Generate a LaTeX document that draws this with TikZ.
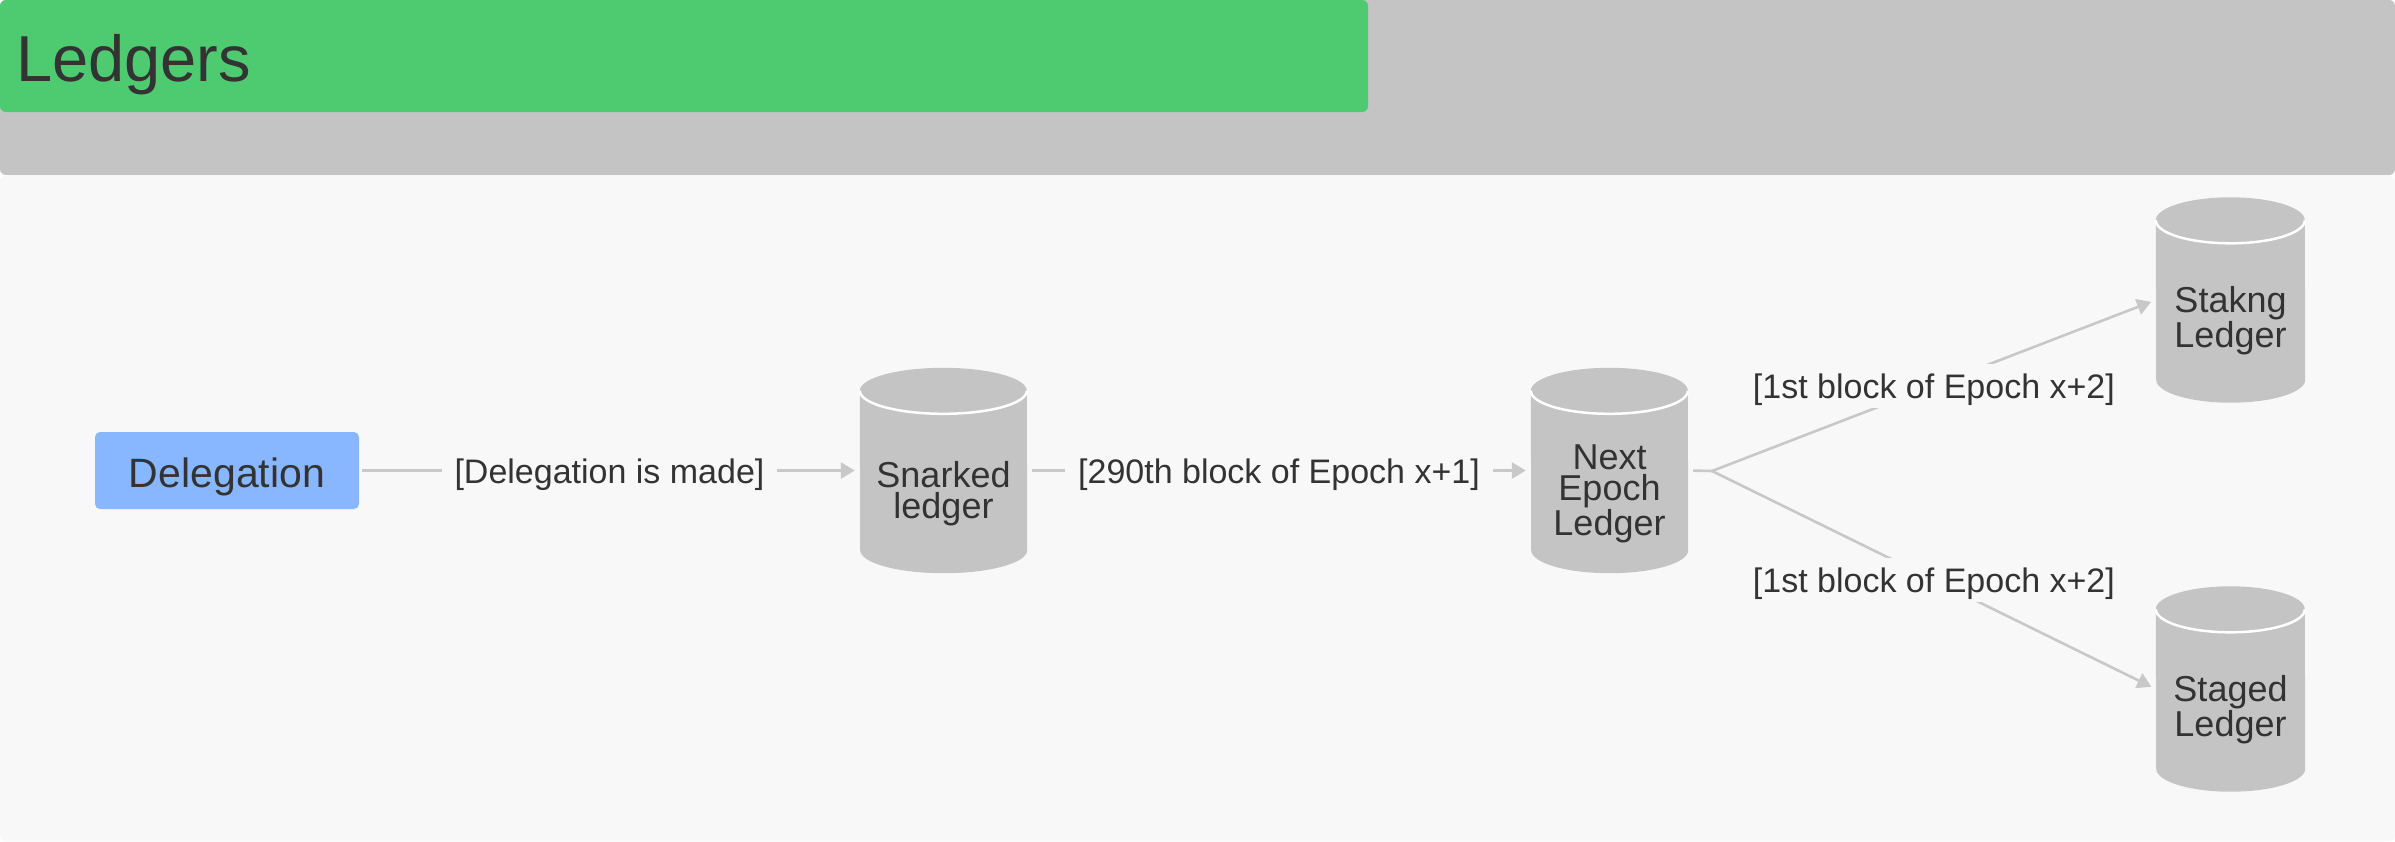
\documentclass[tikz,border=0pt]{standalone}
\usepackage{fontspec}
\setmainfont{Liberation Sans}
\usetikzlibrary{arrows.meta}
\pgfdeclarelayer{bg}
\pgfdeclarelayer{cyl}
\pgfsetlayers{bg,cyl,main}
\definecolor{hdr}{HTML}{C4C4C4}
\definecolor{bodyc}{HTML}{F8F8F8}
\definecolor{grn}{HTML}{4ECB71}
\definecolor{blu}{HTML}{88B7FF}
\definecolor{txt}{HTML}{333333}
\definecolor{edgec}{HTML}{C8C8C8}
\definecolor{cylc}{HTML}{C4C4C4}
\newcommand\dbdraw[2]{%
  \begin{pgfonlayer}{cyl}
  \fill[cylc] ([yshift=-23pt]#1.north west) arc[start angle=180,end angle=0,x radius=#2pt,y radius=23pt]
    -- ([yshift=23pt]#1.south east) arc[start angle=0,end angle=-180,x radius=#2pt,y radius=23pt] -- cycle;
  \draw[white,line width=2.5pt] ([yshift=-23pt]#1.north west) arc[start angle=180,end angle=360,x radius=#2pt,y radius=23pt];
  \end{pgfonlayer}}
\begin{document}
\begin{tikzpicture}[x=1pt,y=-1pt,
  dbnode/.style={rectangle,inner sep=0pt,minimum height=205pt,align=center,text=txt,
    font=\fontsize{36}{31}\selectfont,text depth=10pt},
  twoline/.style={text height=105pt},
  threeline/.style={text height=139pt},
  lab/.style={fill=bodyc,text=txt,font=\fontsize{34}{40}\selectfont,inner xsep=13pt,inner ysep=0pt,
    minimum height=44pt,text height=30pt,text depth=5pt},
  edge/.style={draw=edgec,line width=2.6pt,shorten >=5pt,-{Triangle[length=14pt,width=16pt]}},
]
\useasboundingbox (0,0) rectangle (2395,841);
\begin{pgfonlayer}{bg}
  \fill[white] (0,0) rectangle (2395,841);
  \fill[bodyc,rounded corners=6pt] (0,176) rectangle (2395,841);
  \fill[hdr,rounded corners=6pt] (0,0) rectangle (2395,175);
  \fill[grn,rounded corners=6pt] (0,0) rectangle (1368,112);
\end{pgfonlayer}
\node[anchor=base west,inner sep=0pt,text=txt,font=\fontsize{65}{78}\selectfont] (title) at (16,81) {Ledgers};

\node[fill=blu,rounded corners=5pt,minimum width=264pt,minimum height=77pt,inner sep=0pt,
  text=txt,font=\fontsize{41}{48}\selectfont,text height=35pt,text depth=2pt] (del) at (227,470.5) {Delegation};

\node[dbnode,twoline,minimum width=167pt] (snark) at (943.5,470.5) {Snarked\\ledger};
\node[dbnode,threeline,minimum width=157pt] (next) at (1609.5,470.5) {Next\\Epoch\\Ledger};
\node[dbnode,twoline,minimum width=149pt] (stak) at (2230.5,300) {Stakng\\Ledger};
\node[dbnode,twoline,minimum width=149pt] (staged) at (2230.5,689) {Staged\\Ledger};
\dbdraw{snark}{83.5}
\dbdraw{next}{78.5}
\dbdraw{stak}{74.5}
\dbdraw{staged}{74.5}

\coordinate (fork) at (1712,471);
\draw[edge,shorten <=3pt] (del) -- node[lab] {[Delegation is made]} (snark);
\draw[edge,shorten <=5pt] (snark) -- node[lab] {[290th block of Epoch x+1]} (next);
\draw[draw=edgec,line width=2.6pt,shorten <=5pt] (next.east) -- (fork);
\draw[edge] (fork) -- node[lab] {[1st block of Epoch x+2]} (stak.west);
\draw[edge] (fork) -- node[lab] {[1st block of Epoch x+2]} (staged.west);
\end{tikzpicture}
\end{document}
